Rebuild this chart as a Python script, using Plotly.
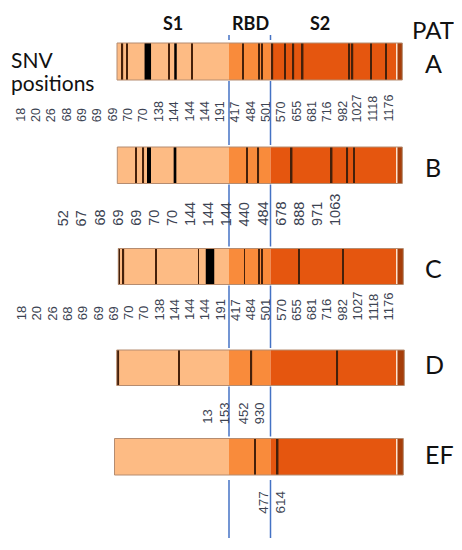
import numpy as np
import plotly.graph_objects as go

# rows (patients) and where each bar sits (diagram units = px of the 462x550 page)
ROWS = ["A", "B", "C", "D", "EF"]
BAR_TOP = [43, 147, 248.5, 350, 438.5]
BAR_BOTTOM = [80, 183.5, 284.5, 385.5, 475]
BAR_LEFT = [117, 117.3, 118.3, 116.7, 114.5]
BAR_RIGHT = [402.3, 402.3, 403.3, 404.3, 403.3]

# domain boundaries along the spike diagram
RBD_START = 229
S2_START = 270.5
TAIL_GAP = 396
TAIL_START = 397.5

# SNV marks: position along the diagram and mark thickness
SNV_A = [122.5, 127, 147.8, 169, 175.5, 192, 242.7, 259, 262.3, 272.5, 285,
         293.5, 302.7, 349.3, 352.5, 371.3, 386.3]
SNV_A_W = [1.3, 1.3, 6.5, 1.0, 2.5, 1.0, 1.0, 1.3, 1.3, 1.3, 1.3, 1.3, 1.5,
           1.5, 1.5, 1.3, 1.3]
SNV_B = [136, 143.3, 149, 175, 246.7, 258.3, 291.7, 331.7, 347.3, 354]
SNV_B_W = [1.0, 1.5, 4.0, 2.7, 1.2, 1.5, 1.5, 1.5, 1.5, 1.3]
SNV_C = [119, 123.5, 156, 198.5, 210, 244.5, 259, 262.3, 299.3, 343.3]
SNV_C_W = [0.8, 1.3, 1.0, 1.0, 8.5, 1.0, 1.3, 1.3, 1.3, 1.3]
SNV_D = [118.5, 178.7, 251.5, 337.3]
SNV_D_W = [1.2, 1.0, 1.3, 1.5]
SNV_EF = [255, 277.7]
SNV_EF_W = [1.3, 1.5]

# position labels printed under each bar
LAB_A = ["18", "20", "26", "68", "69", "69", "69", "70", "70", "138", "144", "144",
         "144", "191", "417", "484", "501", "570", "655", "681", "716", "982",
         "1027", "1118", "1176"]
LAB_B = ["52", "67", "68", "69", "69", "70", "70", "144", "144", "144", "440",
         "484", "678", "888", "971", "1063"]
LAB_C = ["18", "20", "26", "68", "69", "69", "69", "70", "70", "138", "144", "144",
         "144", "191", "417", "484", "501", "570", "655", "681", "716", "982",
         "1027", "1118", "1176"]
LAB_D = ["13", "153", "452", "930"]
LAB_EF = ["477", "614"]

C_S1 = "#FDBB84"
C_RBD = "#F98B3B"
C_S2 = "#E5560F"
C_TAIL = "#A63E0A"
C_BLUE = "#4472C4"
C_LAB = "#3c4352"

# the page body keeps its 8px margin, so the figure is shifted by it
# and its axes start at 8 to keep page pixels == diagram units
PAGE_PAD = 8

top = np.array(BAR_TOP)
bot = np.array(BAR_BOTTOM)
yc = (top + bot) / 2
th = bot - top
left = np.array(BAR_LEFT)
right = np.array(BAR_RIGHT)

fig = go.Figure()


def seg(start, end, color):
    start = np.broadcast_to(start, yc.shape)
    end = np.broadcast_to(end, yc.shape)
    fig.add_trace(go.Bar(
        y=yc, x=end - start, base=start, width=th, orientation="h",
        marker=dict(color=color, line=dict(width=0)),
        hoverinfo="skip", showlegend=False,
    ))


seg(left, RBD_START, C_S1)
seg(RBD_START, S2_START, C_RBD)
seg(S2_START, TAIL_GAP, C_S2)
seg(TAIL_GAP, TAIL_START, "#fbe3d0")
seg(TAIL_START, right, C_TAIL)

# SNV marks
snv_pos = [SNV_A, SNV_B, SNV_C, SNV_D, SNV_EF]
snv_w = [SNV_A_W, SNV_B_W, SNV_C_W, SNV_D_W, SNV_EF_W]
for i, (pos, w) in enumerate(zip(snv_pos, snv_w)):
    pos = np.array(pos)
    w = np.array(w)
    colors = ["#000000" if v > 2 else "#45200a" for v in w]
    fig.add_trace(go.Bar(
        y=[yc[i]] * len(pos), x=w, base=pos - w / 2, width=[th[i]] * len(pos),
        orientation="h", marker=dict(color=colors, line=dict(width=0)),
        hovertemplate="PAT " + ROWS[i] + "<extra></extra>", showlegend=False,
    ))

# bar outlines
fig.add_trace(go.Bar(
    y=yc, x=right - left, base=left, width=th, orientation="h",
    marker=dict(color="rgba(0,0,0,0)", line=dict(color="#b58c70", width=1)),
    hoverinfo="skip", showlegend=False,
))

# blue domain guides between the bars
gaps = [(35, 40)] + [(BAR_BOTTOM[i] + 1, BAR_TOP[i + 1] - 2) for i in range(len(ROWS) - 1)]
gaps.append((BAR_BOTTOM[-1] + 5, 538))
gx, gy = [], []
for bx in (RBD_START, S2_START):
    for y0, y1 in gaps:
        gx += [bx, bx, None]
        gy += [y0, y1, None]
fig.add_trace(go.Scatter(x=gx, y=gy, mode="lines",
                         line=dict(color=C_BLUE, width=1.5),
                         hoverinfo="skip", showlegend=False))

ann = []


def labels(texts, xs, y, size, anchor="bottom"):
    for t, x in zip(texts, xs):
        ann.append(dict(x=x, y=y, text=t, textangle=-90, showarrow=False,
                        xanchor="center", yanchor=anchor,
                        font=dict(family="Liberation Sans, Arial", size=size, color=C_LAB)))


labels(LAB_A, np.linspace(20.7, 388, len(LAB_A)), 124, 12.5)
labels(LAB_B, np.linspace(63.3, 335, len(LAB_B)), 228, 14.5)
labels(LAB_C, np.linspace(21.7, 388, len(LAB_C)), 322.5, 13)
labels(LAB_D, [206.7, 224.3, 243.3, 259.3], 426, 13)
labels(LAB_EF, [263.3, 280], 489, 13.5, anchor="top")

# domain titles
for t, x in [("S1", 172.5), ("RBD", 250), ("S2", 319.5)]:
    ann.append(dict(x=x, y=23, text="<b>" + t + "</b>", showarrow=False,
                    xanchor="center", yanchor="middle",
                    font=dict(family="Lato", size=18, color="#111")))

ann.append(dict(x=9, y=59, text="SNV", showarrow=False, xanchor="left", yanchor="middle",
                font=dict(family="Lato", size=21, color="#111")))
ann.append(dict(x=9, y=82, text="positions", showarrow=False, xanchor="left", yanchor="middle",
                font=dict(family="Lato", size=21, color="#111")))
ann.append(dict(x=410, y=29, text="PAT", showarrow=False, xanchor="left", yanchor="middle",
                font=dict(family="Lato", size=24, color="#111")))
row_lab_y = yc + np.array([1.5, 1.5, 1.0, -3.5, -2.7])
for r, y in zip(ROWS, row_lab_y):
    ann.append(dict(x=423, y=y, text=r, showarrow=False, xanchor="left", yanchor="middle",
                    font=dict(family="Lato", size=25, color="#111")))

fig.update_layout(
    width=462 - PAGE_PAD, height=550 - 2 * PAGE_PAD,
    margin=dict(l=0, r=0, t=0, b=0),
    barmode="overlay",
    paper_bgcolor="white", plot_bgcolor="white",
    xaxis=dict(range=[PAGE_PAD, 462], visible=False, fixedrange=True),
    yaxis=dict(range=[550 - PAGE_PAD, PAGE_PAD], visible=False, fixedrange=True),
    annotations=ann,
)

fig.write_html("out.html")
